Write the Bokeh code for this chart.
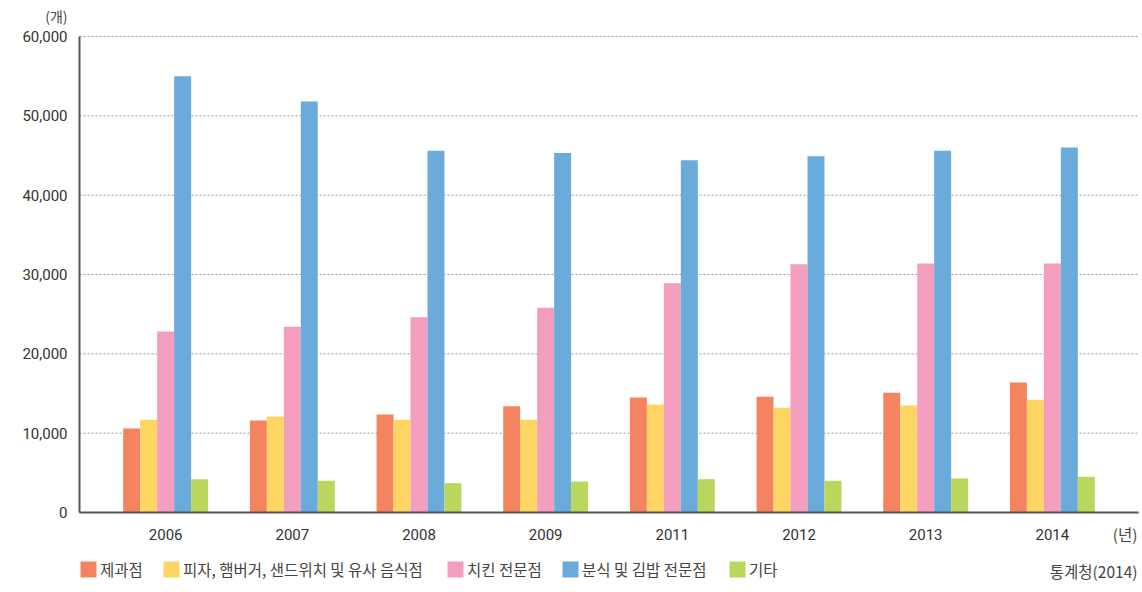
from bokeh.plotting import figure
from bokeh.models import ColumnDataSource, Range1d, Legend, LegendItem, Label
from bokeh.transform import dodge
from bokeh.embed import file_html
from bokeh.resources import INLINE

years = ["2006", "2007", "2008", "2009", "2011", "2012", "2013", "2014"]
series_names = ["제과점", "피자, 햄버거, 샌드위치 및 유사 음식점", "치킨 전문점", "분식 및 김밥 전문점", "기타"]
bakery = [10600, 11600, 12350, 13400, 14500, 14600, 15100, 16400]
pizza = [11700, 12100, 11700, 11700, 13600, 13200, 13500, 14200]
chicken = [22800, 23400, 24600, 25800, 28900, 31300, 31400, 31400]
snack = [55000, 51800, 45600, 45300, 44400, 44900, 45600, 46000]
other = [4200, 4000, 3700, 3900, 4200, 4000, 4300, 4500]
colors = ["#F4845F", "#FED462", "#F39DBF", "#6AABDC", "#B9D65D"]
yticks = [0, 10000, 20000, 30000, 40000, 50000, 60000]
ytick_labels = [f"{v:,}" for v in yticks]

src = ColumnDataSource(dict(x=list(range(len(years))), year=years, bakery=bakery, pizza=pizza,
                            chicken=chicken, snack=snack, other=other))
tick_src = ColumnDataSource(dict(y=yticks, label=ytick_labels))

NFONT = "Roboto"
KFONT = "Noto Sans CJK KR"

# data extent of the plotting area (axes drawn at these limits)
X0, X1 = -0.68, 7.68
Y0, Y1 = 0, 60000
xpp = (X1 - X0) / 1059.0
ypp = (Y1 - Y0) / 476.0

p = figure(width=1142, height=592, output_backend="svg", toolbar_location=None,
           x_range=Range1d(X0 - 79 * xpp, X1 + 4 * xpp),
           y_range=Range1d(Y0 - 80 * ypp, Y1 + 36 * ypp),
           x_axis_type=None, y_axis_type=None,
           min_border=0, min_border_left=0, min_border_right=0,
           min_border_top=0, min_border_bottom=0)
p.outline_line_color = None
p.background_fill_color = "white"
p.border_fill_color = "white"
p.grid.visible = False

# horizontal dotted grid
p.segment(x0=X0, x1=X1, y0="y", y1="y", source=tick_src, line_color="#999999",
          line_dash="2 2", line_width=1)

bw = 0.134
keys = ["bakery", "pizza", "chicken", "snack", "other"]
renderers = []
for i, (k, c) in enumerate(zip(keys, colors)):
    r = p.vbar(x=dodge("x", (i - 2) * bw, range=p.x_range), top=k, width=bw, bottom=0,
               source=src, fill_color=c, line_color=None)
    renderers.append(r)

# axis lines
p.segment(x0=[X0], y0=[Y0], x1=[X0], y1=[Y1], line_color="#555555", line_width=2)
p.segment(x0=[X0], y0=[Y0], x1=[X1], y1=[Y0], line_color="#555555", line_width=2)

# y tick labels
p.text(x=X0, y="y", text="label", source=tick_src, x_offset=-12,
       text_align="right", text_baseline="middle", text_font={"value": NFONT},
       text_font_size="15px", text_color="#333333")
# x tick labels
p.text(x="x", y=Y0, text="year", source=src, y_offset=22,
       text_align="center", text_baseline="middle", text_font={"value": NFONT},
       text_font_size="15px", text_color="#333333")

# unit labels
p.add_layout(Label(x=67, y=577, x_units="screen", y_units="screen", text="(개)",
                   text_font=KFONT, text_font_size="14px", text_color="#444444",
                   text_baseline="middle", text_align="right"))
p.add_layout(Label(x=1137, y=59, x_units="screen", y_units="screen", text="(년)",
                   text_font=KFONT, text_font_size="15.5px", text_color="#444444",
                   text_baseline="middle", text_align="right"))
p.add_layout(Label(x=1137, y=22, x_units="screen", y_units="screen", text="통계청(2014)",
                   text_font=KFONT, text_font_size="15.5px", text_color="#444444",
                   text_baseline="middle", text_align="right"))

# legends, one per item for exact placement
legend_x = [78, 161, 445, 560, 727]
for i in range(5):
    lg = Legend(items=[LegendItem(label=series_names[i], renderers=[renderers[i]])],
                location=(legend_x[i], 12), orientation="horizontal",
                glyph_width=20, glyph_height=20, label_text_font=KFONT,
                label_text_font_size="15.5px", label_text_color="#444444",
                padding=0, margin=0, spacing=0, label_standoff=2,
                label_height=20, border_line_color=None, background_fill_alpha=0)
    p.add_layout(lg, "center")

open("out.html", "w").write(file_html(p, INLINE))
